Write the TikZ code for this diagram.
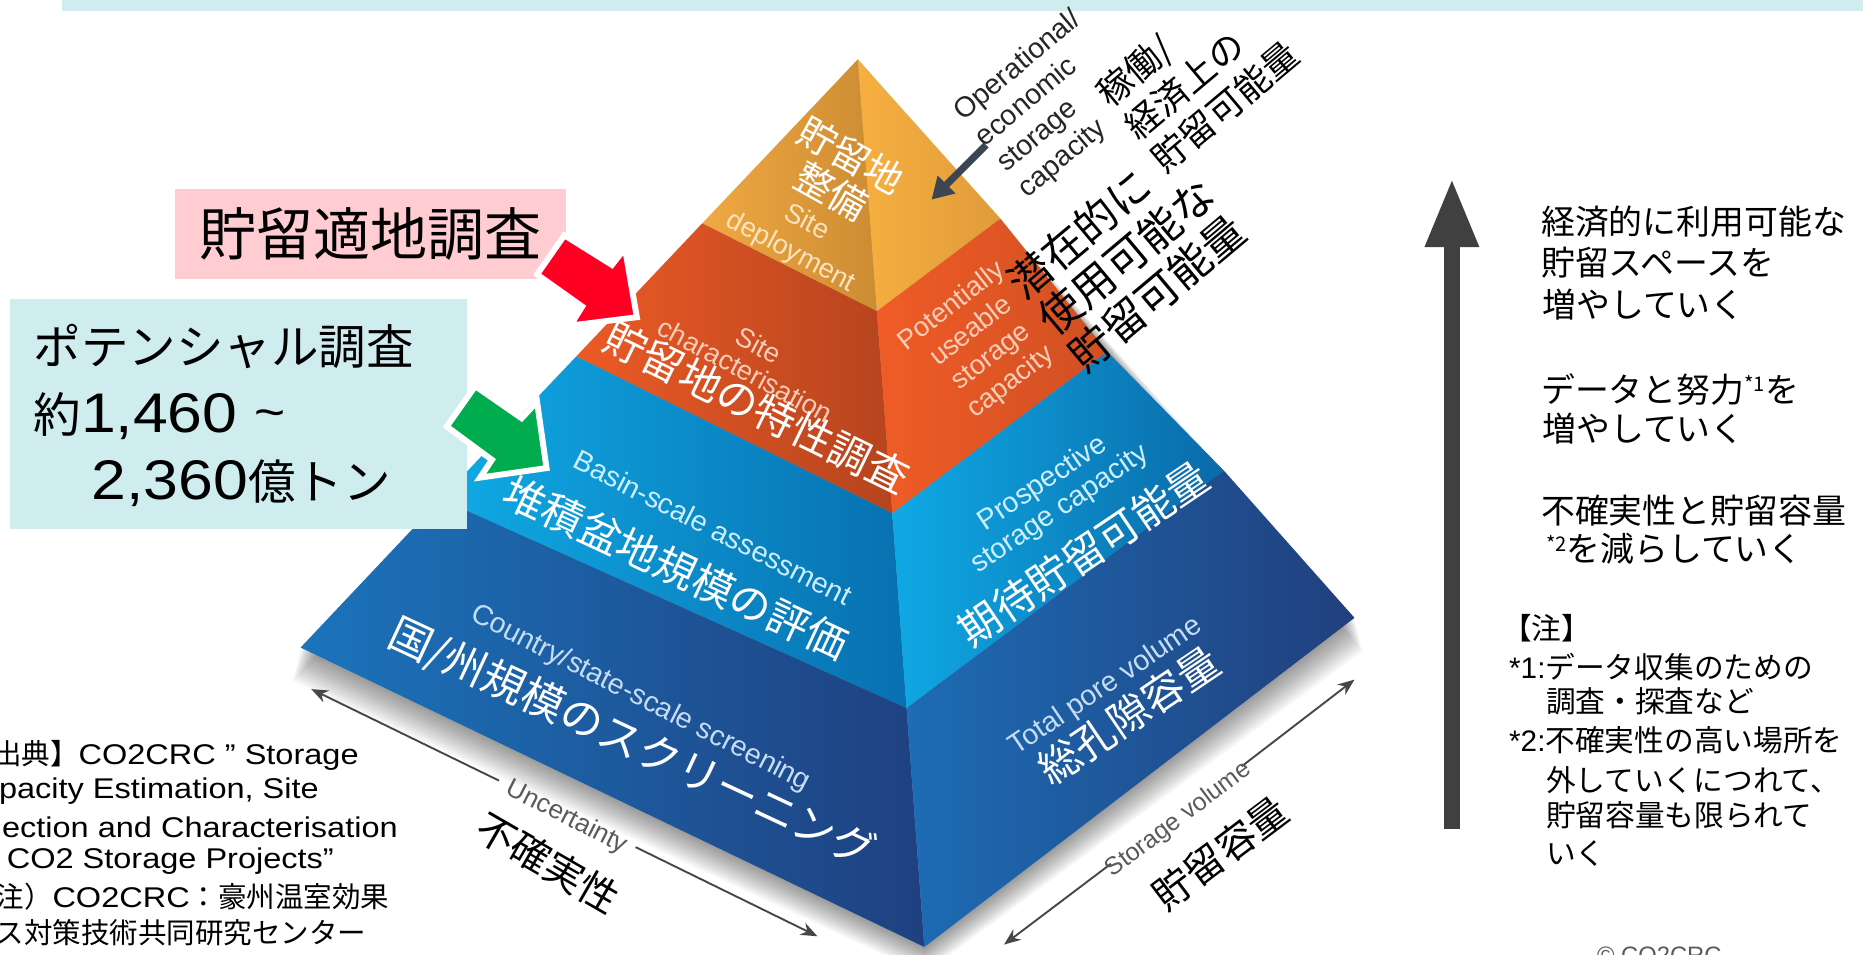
\documentclass[tikz,border=0pt]{standalone}
\usepackage{fontspec}
\setmainfont{Liberation Sans}
\newfontfamily\jp{Noto Sans CJK JP}
\newfontfamily\lat[FakeStretch=1.14]{Liberation Sans}
\newfontfamily\dig[FakeStretch=1.12]{Liberation Sans}
\usetikzlibrary{arrows.meta,calc}
\newcommand{\fsz}[2]{\fontsize{#1}{#2}\selectfont}
\definecolor{bandc}{HTML}{CFECEF}
\definecolor{pinkc}{HTML}{FFCCD2}
\definecolor{cyanc}{HTML}{CFECEF}
\definecolor{redarr}{HTML}{FF0022}
\definecolor{grnarr}{HTML}{00AC4E}
\definecolor{orL1}{HTML}{F0A943}
\definecolor{orL2}{HTML}{CC8C32}
\definecolor{orR1}{HTML}{F7AF40}
\definecolor{orR2}{HTML}{E09C3B}
\definecolor{rdL1}{HTML}{EC5A26}
\definecolor{rdL2}{HTML}{B6441E}
\definecolor{rdR1}{HTML}{F05C27}
\definecolor{rdR2}{HTML}{D04F22}
\definecolor{lbL1}{HTML}{10AAE5}
\definecolor{lbL2}{HTML}{0870B0}
\definecolor{lbR1}{HTML}{0FA9E5}
\definecolor{lbR2}{HTML}{0A6AA8}
\definecolor{dbL1}{HTML}{1B74BC}
\definecolor{dbL2}{HTML}{1F4080}
\definecolor{dbR1}{HTML}{1D6CB5}
\definecolor{dbR2}{HTML}{213F7D}
\definecolor{paleO}{HTML}{FCE3BD}
\definecolor{paleR}{HTML}{F8CDB8}
\definecolor{paleL}{HTML}{CDEEFB}
\definecolor{paleD}{HTML}{C4DDF2}
\definecolor{darr}{HTML}{404040}
\definecolor{arrc}{HTML}{3B4652}
\definecolor{gtxt}{HTML}{5A5A5A}
\tikzset{
  lab/.style={inner sep=0pt, align=center},
  blockarrow/.style={draw=white, line width=5pt, line join=miter},
  dimarrow/.style={draw=black!72, line width=1.6pt},
  rtext/.style={inner sep=0pt, anchor=west, font=\jp\fsz{28.5}{30}},
  notetext/.style={inner sep=0pt, anchor=west, font=\jp\fsz{25}{27}},
  srctext/.style={inner sep=0pt, anchor=west, font=\lat\fsz{24}{26}},
}
\begin{document}
\begin{tikzpicture}[x=1pt,y=-1pt]
\useasboundingbox (0,0) rectangle (1568,803);
\clip (0,0) rectangle (1568,803);
\fill[white] (0,0) rectangle (1568,803);
\fill[bandc] (52,0) rectangle (1568,9);

% pyramid geometry
\coordinate (A) at (722,50);
\coordinate (L) at (253,545);
\coordinate (B) at (778,797);
\coordinate (R) at (1140,520);
\coordinate (P1) at (591,188);
\coordinate (P2) at (485,300);
\coordinate (P3) at (371,420);
\coordinate (Q1) at (738,262);
\coordinate (Q2) at (751,432);
\coordinate (Q3) at (763,596);
\coordinate (S1) at (842,184);
\coordinate (S2) at (932,296);
\coordinate (S3) at (1030,396);

% soft shadow
\foreach \i in {1,...,14}{
  \fill[black,opacity=0.03] ($(L)+(-0.5*\i,2*\i)$) -- ($(B)+(0,1.6*\i)$) -- ($(R)+(0.5*\i,2*\i)$) -- (A) -- cycle;
}

% faces
\shade[left color=orL1, right color=orL2] (A) -- (P1) -- (Q1) -- cycle;
\shade[left color=orR1, right color=orR2] (A) -- (Q1) -- (S1) -- cycle;
\shade[left color=rdL1, right color=rdL2] (P1) -- (P2) -- (Q2) -- (Q1) -- cycle;
\shade[left color=rdR1, right color=rdR2] (Q1) -- (Q2) -- (S2) -- (S1) -- cycle;
\shade[left color=lbL1, right color=lbL2] (P2) -- (P3) -- (Q3) -- (Q2) -- cycle;
\shade[left color=lbR1, right color=lbR2] (Q2) -- (Q3) -- (S3) -- (S2) -- cycle;
\shade[left color=dbL1, right color=dbL2] (P3) -- (L) -- (B) -- (Q3) -- cycle;
\shade[left color=dbR1, right color=dbR2] (Q3) -- (B) -- (R) -- (S3) -- cycle;

% left face labels
\node[lab, rotate=-29, text=white, font=\jp\fsz{32}{34}] (tJ) at (708,146) {貯留地\\整備};
\node[lab, rotate=-28, text=paleO, font=\fsz{23}{28}] (tE) at (672,200) {Site\\deployment};
\node[lab, rotate=-28, text=paleR, font=\fsz{23}{24}] (rE) at (633,301) {Site\\characterisation};
\node[lab, rotate=-26, text=white, font=\jp\fsz{35}{35}] (rJ) at (637,343) {貯留地の特性調査};
\node[lab, rotate=-27, text=paleL, font=\fsz{24}{24}] (bE) at (600,444) {Basin-scale assessment};
\node[lab, rotate=-25, text=white, font=\jp\fsz{35}{35}] (bJ) at (569,478) {堆積盆地規模の評価};
\node[lab, rotate=-27, text=paleD, font=\fsz{24}{24}] (cE) at (539,588) {Country/state-scale screening};
\node[lab, rotate=-25, text=white, font=\jp\fsz{36}{36}] (cJ) at (532,626) {国/州規模のスクリーニング};

% right face labels
\node[lab, rotate=38, text=paleR, font=\fsz{23}{27}] (pE) at (826,290) {Potentially\\useable\\storage\\capacity};
\node[lab, rotate=34, text=paleL, font=\fsz{24}{26}] (sE) at (885,418) {Prospective\\storage capacity};
\node[lab, rotate=34, text=white, font=\jp\fsz{35}{35}] (sJ) at (912,466) {期待貯留可能量};
\node[lab, rotate=34, text=paleD, font=\fsz{24}{24}] (vE) at (931,578) {Total pore volume};
\node[lab, rotate=34, text=white, font=\jp\fsz{35}{35}] (vJ) at (950,602) {総孔隙容量};

% orange arrow
\coordinate (oa1) at (830,122);
\coordinate (oa2) at (784,168);
\draw[arrc, line width=6pt, -{Triangle[length=18pt,width=20pt]}] (oa1) -- (oa2);

% outside labels
\node[lab, align=left, rotate=40, text=black!85, font=\fsz{24}{28}] (opE) at (884,88) {Operational/\\economic\\storage\\capacity};
\node[lab, align=left, rotate=40, font=\jp\fsz{30}{36}] (opJ) at (1008,62) {稼働/\\経済上の\\貯留可能量};
\node[lab, align=left, rotate=40, font=\jp\fsz{36}{40}] (potJ) at (948,216) {潜在的に\\使用可能な\\貯留可能量};

% bottom dimension arrows
\coordinate (u1) at (262,580);
\coordinate (u2) at (420,657);
\coordinate (u3) at (535,713);
\coordinate (u4) at (688,788);
\draw[dimarrow, {Stealth[length=14pt,width=11pt]}-] (u1) -- (u2);
\draw[dimarrow, -{Stealth[length=14pt,width=11pt]}] (u3) -- (u4);
\node[lab, rotate=-27, text=gtxt, font=\fsz{22}{22}] (uE) at (477,688) {Uncertainty};
\node[lab, rotate=-30, font=\jp\fsz{33}{33}] (uJ) at (461,726) {不確実性};

\coordinate (w1) at (845,795);
\coordinate (w2) at (935,727);
\coordinate (w3) at (1045,645);
\coordinate (w4) at (1140,572);
\draw[dimarrow, {Stealth[length=14pt,width=11pt]}-] (w1) -- (w2);
\draw[dimarrow, -{Stealth[length=14pt,width=11pt]}] (w3) -- (w4);
\node[lab, rotate=37, text=gtxt, font=\fsz{21}{21}] (wE) at (992,690) {Storage volume};
\node[lab, rotate=37, font=\jp\fsz{33}{33}] (wJ) at (1027,718) {貯留容量};

% left boxes
\node[fill=pinkc, minimum width=329pt, minimum height=76pt, inner sep=0pt, font=\jp\fsz{48}{48}] (pinkbox) at (311.5,197) {貯留適地調査};
\node[fill=cyanc, minimum width=385pt, minimum height=193pt, inner sep=0pt] (cyanbox) at (200.5,348.5) {};
\node[inner sep=0pt, anchor=west, font=\jp\fsz{40}{40}] (c1) at (28,292) {ポテンシャル調査};
\node[inner sep=0pt, anchor=west, font=\jp\fsz{40}{40}] (c2) at (28,350) {約{\dig\fsz{47}{47}1,460 \raisebox{3pt}{\fsz{40}{40}\char`\~}}};
\node[inner sep=0pt, anchor=west, font=\jp\fsz{40}{40}] (c3) at (77,407) {{\dig\fsz{47}{47}2,360}億トン};

% block arrows
\coordinate (ra1) at (475,198);
\coordinate (ra2) at (515,223);
\coordinate (ra3) at (526,209);
\coordinate (ra4) at (536,267);
\coordinate (ra5) at (480,274);
\coordinate (ra6) at (490,258);
\coordinate (ra7) at (452,231);
\filldraw[blockarrow, fill=redarr] (ra1) -- (ra2) -- (ra3) -- (ra4) -- (ra5) -- (ra6) -- (ra7) -- cycle;
\coordinate (ga1) at (400,325);
\coordinate (ga2) at (439,352);
\coordinate (ga3) at (452,338);
\coordinate (ga4) at (460,394);
\coordinate (ga5) at (404,402);
\coordinate (ga6) at (414,387);
\coordinate (ga7) at (376,359);
\filldraw[blockarrow, fill=grnarr] (ga1) -- (ga2) -- (ga3) -- (ga4) -- (ga5) -- (ga6) -- (ga7) -- cycle;

% source text
\node[srctext] (s1) at (-30,636) {{\jp 【出典】}CO2CRC ” Storage};
\node[srctext] (s2) at (-36,666) {Capacity Estimation, Site};
\node[srctext] (s3) at (-38,696) {Selection and Characterisation};
\node[srctext] (s4) at (-34,725) {for CO2 Storage Projects”};
\node[srctext] (s5) at (-28,755) {{\jp\fsz{24}{26}（注）}CO2CRC{\jp\fsz{24}{26}：豪州温室効果}};
\node[srctext, font=\jp\fsz{24}{26}] (s6) at (-28,785) {ガス対策技術共同研究センター};

% vertical arrow
\coordinate (vtail) at (1222,698);
\coordinate (vtip) at (1222,150);
\draw[darr, line width=13pt, -{Triangle[length=58pt,width=42pt]}] (vtail) -- (vtip);

% right column text
\node[rtext] (r1) at (1297,187) {経済的に利用可能な};
\node[rtext] (r2) at (1297,221) {貯留スペースを};
\node[rtext] (r3) at (1298,256) {増やしていく};
\node[rtext] (r4) at (1297,328) {データと努力{\fsz{17}{17}\raisebox{9pt}{*1}}を};
\node[rtext] (r5) at (1298,361) {増やしていく};
\node[rtext] (r6) at (1297,430) {不確実性と貯留容量};
\node[rtext] (r7) at (1301,462) {{\fsz{17}{17}\raisebox{9pt}{*2}}を減らしていく};

\node[notetext] (n0) at (1264,529) {【注】};
\node[notetext] (n1) at (1270,561) {{\fontspec{Liberation Sans}*1:}データ収集のための};
\node[notetext] (n2) at (1301,590) {調査・探査など};
\node[notetext] (n3) at (1270,623) {{\fontspec{Liberation Sans}*2:}不確実性の高い場所を};
\node[notetext] (n4) at (1301,657) {外していくにつれて、};
\node[notetext] (n5) at (1301,686) {貯留容量も限られて};
\node[notetext] (n6) at (1301,718) {いく};

\node[inner sep=0pt, anchor=north west, text=gtxt, font=\fsz{20}{20}] (copy) at (1344,797) {© CO2CRC};
\end{tikzpicture}
\end{document}
